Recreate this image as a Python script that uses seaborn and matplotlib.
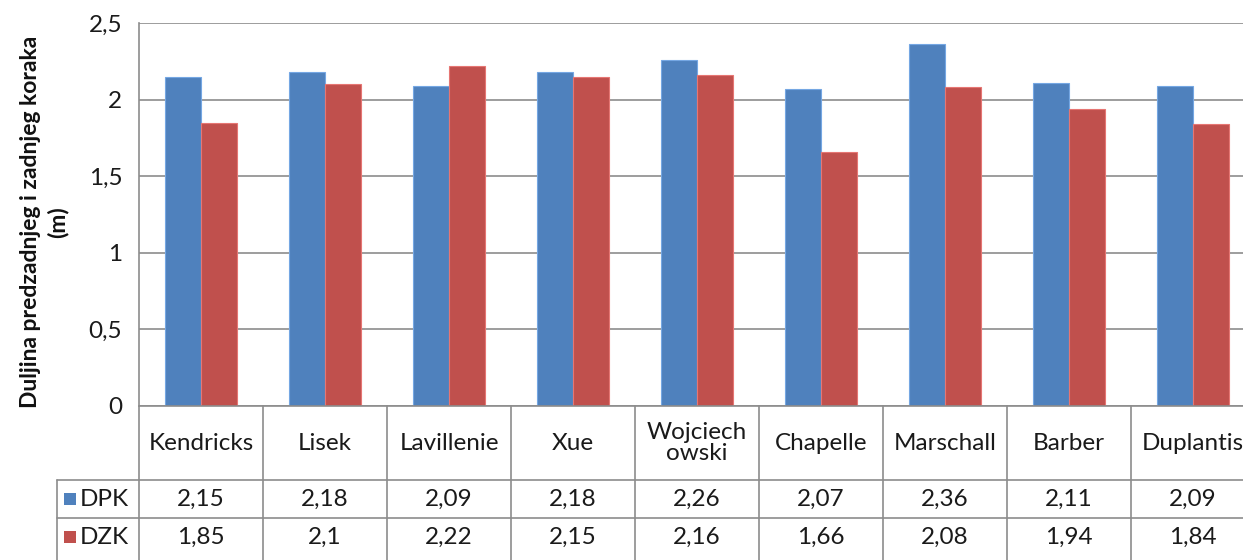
import matplotlib
matplotlib.use("Agg")
import matplotlib.pyplot as plt
import seaborn as sns
import pandas as pd
from matplotlib.lines import Line2D
from matplotlib.patches import Rectangle

categories = ["Kendricks", "Lisek", "Lavillenie", "Xue", "Wojciech\nowski",
              "Chapelle", "Marschall", "Barber", "Duplantis"]
series_names = ["DPK", "DZK"]
dpk = [2.15, 2.18, 2.09, 2.18, 2.26, 2.07, 2.36, 2.11, 2.09]
dzk = [1.85, 2.10, 2.22, 2.15, 2.16, 1.66, 2.08, 1.94, 1.84]
dpk_labels = ["2,15", "2,18", "2,09", "2,18", "2,26", "2,07", "2,36", "2,11", "2,09"]
dzk_labels = ["1,85", "2,1", "2,22", "2,15", "2,16", "1,66", "2,08", "1,94", "1,84"]
ytick_vals = [0, 0.5, 1, 1.5, 2, 2.5]
ytick_labels = ["0", "0,5", "1", "1,5", "2", "2,5"]
colors = ["#4F81BD", "#C0504D"]
ylabel = "Duljina predzadnjeg i zadnjeg koraka\n(m)"

sns.set_theme(style="white")
plt.rcParams["font.family"] = ["Lato", "DejaVu Sans"]

df = pd.DataFrame({
    "cat": categories * 2,
    "series": [series_names[0]] * len(categories) + [series_names[1]] * len(categories),
    "value": dpk + dzk,
})

FS = 17.5
TXT = "#1a1a1a"
W, H = 1243, 560
fig = plt.figure(figsize=(W / 100, H / 100), dpi=100)
left_px, right_px, top_px, bot_px = 139, 139 + 124 * 9, 23, 406
ax = fig.add_axes([left_px / W, 1 - bot_px / H, (right_px - left_px) / W, (bot_px - top_px) / H])

sns.barplot(data=df, x="cat", y="value", hue="series", palette=colors,
            width=0.58, gap=0, ax=ax, legend=False, linewidth=0.8,
            edgecolor="white", saturation=1)
for p in ax.patches:
    fc = p.get_facecolor()
    p.set_edgecolor((min(fc[0] + 0.15, 1), min(fc[1] + 0.15, 1), min(fc[2] + 0.15, 1), 1))

ax.set_xlim(-0.5, len(categories) - 0.5)
ax.set_ylim(0, 2.5)
ax.set_yticks(ytick_vals)
ax.set_yticklabels(ytick_labels, fontsize=FS, color=TXT)
ax.tick_params(axis="y", length=0, pad=12)
ax.set_xticks([])
ax.set_xlabel("")
ax.set_ylabel("")
ax.grid(axis="y", color="#8C8C8C", linewidth=1.2)
ax.set_axisbelow(True)
for s in ["top", "right", "bottom"]:
    ax.spines[s].set_visible(False)
ax.spines["left"].set_color("#8C8C8C")
ax.spines["left"].set_linewidth(1.2)

fig.text(44 / W, 1 - 222 / H, ylabel, rotation=90, ha="center", va="center",
         fontsize=16.5, fontweight="bold", color="#111111", linespacing=1.3)

# data table
tr = ax.get_xaxis_transform()
def yfrac(py):
    return (bot_px - py) / (bot_px - top_px)
def xdata(px):
    return (px - left_px) / 124 - 0.5

lc = "#8C8C8C"
lw = 1.2
n = len(categories)
x_left_tab = xdata(57)
ax.add_line(Line2D([-0.5, n - 0.5], [0, 0], transform=tr, color=lc, lw=lw, clip_on=False))
for py in [480, 518]:
    ax.add_line(Line2D([x_left_tab, n - 0.5], [yfrac(py)] * 2, transform=tr, color=lc, lw=lw, clip_on=False))
for k in range(n + 1):
    ax.add_line(Line2D([k - 0.5, k - 0.5], [0, yfrac(580)], transform=tr, color=lc, lw=lw, clip_on=False))
ax.add_line(Line2D([x_left_tab, x_left_tab], [yfrac(480), yfrac(580)], transform=tr, color=lc, lw=lw, clip_on=False))

for i, c in enumerate(categories):
    ax.text(i, yfrac(443), c, transform=tr, ha="center", va="center", fontsize=FS,
            color=TXT, linespacing=1.05, clip_on=False)
    ax.text(i, yfrac(499), dpk_labels[i], transform=tr, ha="center", va="center",
            fontsize=FS, color=TXT, clip_on=False)
    ax.text(i, yfrac(537), dzk_labels[i], transform=tr, ha="center", va="center",
            fontsize=FS, color=TXT, clip_on=False)

for name, col, py in [(series_names[0], colors[0], 499), (series_names[1], colors[1], 537)]:
    sq = Rectangle((64 / W, 1 - (py + 6) / H), 12 / W, 12 / H, transform=fig.transFigure,
                   facecolor=col, edgecolor="none")
    fig.add_artist(sq)
    fig.text(80 / W, 1 - py / H, name, ha="left", va="center", fontsize=FS, color=TXT)

fig.savefig("out.png", dpi=100)
